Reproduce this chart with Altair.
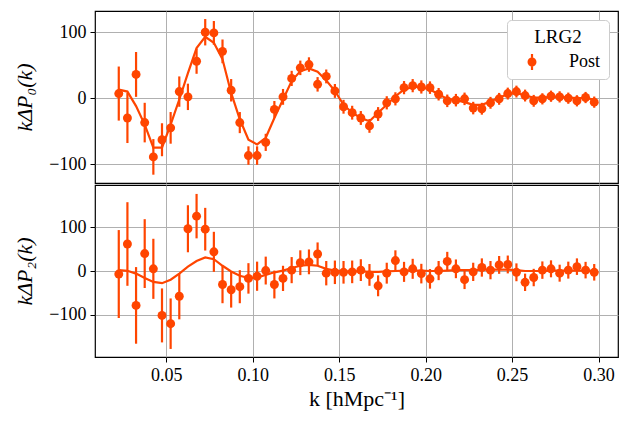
import altair as alt
import pandas as pd

# ---------------- data ----------------
k = [0.0225, 0.0275, 0.0325, 0.0375, 0.0425, 0.0475, 0.0525, 0.0575, 0.0625, 0.0675,
     0.0725, 0.0775, 0.0825, 0.0875, 0.0925, 0.0975, 0.1025, 0.1075, 0.1125, 0.1175,
     0.1225, 0.1275, 0.1325, 0.1375, 0.1425, 0.1475, 0.1525, 0.1575, 0.1625, 0.1675,
     0.1725, 0.1775, 0.1825, 0.1875, 0.1925, 0.1975, 0.2025, 0.2075, 0.2125, 0.2175,
     0.2225, 0.2275, 0.2325, 0.2375, 0.2425, 0.2475, 0.2525, 0.2575, 0.2625, 0.2675,
     0.2725, 0.2775, 0.2825, 0.2875, 0.2925, 0.2975]

p0 = [7, -30, 36, -37, -89, -63, -45, 10, 2, 56,
      100, 99, 71, 12, -37, -87, -87, -67, -17, 2,
      30, 46, 51, 21, 33, 11, -13, -22, -30, -42,
      -24, -7, -1, 16, 19, 17, 16, 6, -4, -3,
      -1, -15, -16, -7, -1, 7, 10, 4, -4, -1,
      3, 2, 0, -4, 1, -6]
p0_err = [41, 38, 34, 30, 27, 25, 24, 23, 20, 19,
          20, 18, 18, 17, 16, 14, 14, 13, 12.7, 12,
          11.5, 11, 11, 11, 10.5, 10.5, 10.5, 10.5, 10.5, 10.5,
          10.5, 10, 10, 10, 10, 10, 9.5, 9.5, 9.5, 9.5,
          9.5, 9.5, 9, 9, 9, 9, 9, 9, 9, 8.5,
          8.5, 8.5, 8.5, 8.5, 8.5, 8.5]
p0_model = [13, 10, -12, -40, -75, -75, -40, -2, 38, 76,
            93, 84, 59, 8, -32, -63, -70, -60, -30, -2,
            26, 41, 45, 40, 27, 11, -10, -22, -30, -35,
            -22, -10, 3, 13, 17, 17, 13, 6, -1, -3,
            -6, -10, -10, -5, 1, 6, 8, 4, 1, 1,
            2, 2, 1, 0, 0, -2]

p2 = [-7, 62, -79, 40, 5, -102, -121, -58, 97, 126,
      96, 44, -31, -43, -36, -17, -12, 1, -31, -17,
      2, 19, 21, 39, -5, -3, -3, -2, 2, -9,
      -34, -5, 24, -2, 5, -6, -18, 1, 22, 5,
      -20, -2, 8, 2, 14, 15, -3, -26, -15, 2,
      5, -5, 2, 10, 2, -3]
p2_err = [101, 96, 88, 79, 69, 62, 58, 53, 54, 51,
          49, 46, 43, 41, 38, 35, 33.5, 32, 32, 29,
          30, 28.5, 28.5, 26.6, 28, 27, 26, 26, 25, 25,
          24, 24, 23.5, 23, 23, 22.5, 22.5, 22, 22, 21.5,
          21.5, 21, 21, 21, 20.5, 20.5, 20.5, 20, 20, 20,
          19.5, 19.5, 19.5, 19, 19, 19]
p2_model = [2, 0.5, -6, -16, -25, -28, -20, -6, 10, 23,
            31, 27, 12, -1, -11, -16, -15, -9, -3, 1,
            7, 12, 14, 12, 5, 1, -1, -1, -1, -2,
            -2, -1, 0, 1, 1, 1, 0, 0, 1, 2,
            2, 2, 3, 3, 3, 3, 2, 0, 0, 0,
            1, 1, 1, 1, 1, 0]

series_name = "Post"
legend_title = "LRG2"
x_ticks = [0.05, 0.10, 0.15, 0.20, 0.25, 0.30]
y_ticks = [-100, 0, 100]

# ---------------- build table ----------------
df = pd.DataFrame({
    "k": k,
    "p0": p0, "p0_lo": [v - e for v, e in zip(p0, p0_err)], "p0_hi": [v + e for v, e in zip(p0, p0_err)],
    "p0_model": p0_model,
    "p2": p2, "p2_lo": [v - e for v, e in zip(p2, p2_err)], "p2_hi": [v + e for v, e in zip(p2, p2_err)],
    "p2_model": p2_model,
    "series": [series_name] * len(k),
})

COLOR = "#ff4500"
SERIF = "Liberation Serif"
W, H = 523, 172
XDOM = [0.00875, 0.31125]

sym = ("M-0.45,0A0.45,0.45 0 1,0 0.45,0A0.45,0.45 0 1,0 -0.45,0Z"
       "M-0.11,-0.8L0.11,-0.8L0.11,-0.44L-0.11,-0.44Z"
       "M-0.11,0.44L0.11,0.44L0.11,0.8L-0.11,0.8Z")


def panel(key, ydom, ytitle, bottom, legend):
    base = alt.Chart(df)
    if bottom:
        xaxis = alt.Axis(values=x_ticks, format=".2f", title="k [hMpc\u207b\u00b9]",
                         labelFont=SERIF, labelFontSize=18, tickSize=5, labelPadding=4,
                         titleFont=SERIF, titleFontSize=22, titleFontWeight=400,
                         titlePadding=4, titleColor="black", labelColor="black",
                         tickColor="black", domain=False)
    else:
        xaxis = alt.Axis(values=x_ticks, labels=False, ticks=False, title=None, domain=False)
    xenc = alt.X("k:Q", scale=alt.Scale(domain=XDOM, nice=False, zero=False), axis=xaxis)
    yscale = alt.Scale(domain=ydom, nice=False, zero=False)
    yaxis = alt.Axis(values=y_ticks, format="d", title=ytitle,
                     labelFont=SERIF, labelFontSize=18, tickSize=5, labelPadding=4,
                     titleFont=SERIF, titleFontSize=22, titleFontWeight=400,
                     titleFontStyle="italic", titlePadding=12,
                     titleColor="black", labelColor="black", tickColor="black", domain=False)

    rules = base.mark_rule(color=COLOR, strokeWidth=2.2, clip=True).encode(
        x=xenc,
        y=alt.Y(f"{key}_lo:Q", scale=yscale, axis=yaxis),
        y2=f"{key}_hi:Q",
    )
    line = base.mark_line(color=COLOR, strokeWidth=2.2, clip=True).encode(
        x=xenc,
        y=alt.Y(f"{key}_model:Q", scale=yscale, axis=yaxis),
    )
    if legend:
        color = alt.Color("series:N", scale=alt.Scale(domain=[series_name], range=[COLOR]),
                          legend=alt.Legend(
                              title=legend_title, orient="top-right", offset=9,
                              titleFont=SERIF, titleFontSize=19,
                              titleFontWeight=400, titleAnchor="middle",
                              titleColor="black", titlePadding=5,
                              labelFont=SERIF, labelFontSize=18, labelColor="black",
                              labelOffset=27, symbolOffset=7,
                              symbolType=sym, symbolSize=400, symbolStrokeWidth=0,
                              symbolFillColor=COLOR,
                              fillColor="white", strokeColor="#cccccc",
                              cornerRadius=4, padding=8))
    else:
        color = alt.value(COLOR)
    pts = base.mark_circle(size=80, opacity=1, clip=True).encode(
        x=xenc,
        y=alt.Y(f"{key}:Q", scale=yscale, axis=yaxis),
        color=color,
    )
    return alt.layer(line, rules, pts).properties(width=W, height=H)


top = panel("p0", [-128.6, 132.2], "k\u0394P\u2080(k)", bottom=False, legend=True)
bot = panel("p2", [-197.5, 197.5], "k\u0394P\u2082(k)", bottom=True, legend=False)

chart = alt.vconcat(top, bot, spacing=0).resolve_scale(color="independent").resolve_legend(
    color="independent"
).properties(
    padding={"left": 5, "top": 2, "right": 5, "bottom": 5},
    background="white",
).configure(
    style={"guide-title": {"fontWeight": 400}}
).configure_view(
    stroke="black", strokeWidth=1.2
).configure_axis(
    grid=True, gridColor="#b0b0b0", gridWidth=1
).configure_legend(
    titleFont=SERIF, titleFontWeight=400, titleFontSize=19, titleColor="black",
    labelFont=SERIF, labelFontSize=18
)

chart.save("out.html", embed_options={"renderer": "svg", "actions": False})
